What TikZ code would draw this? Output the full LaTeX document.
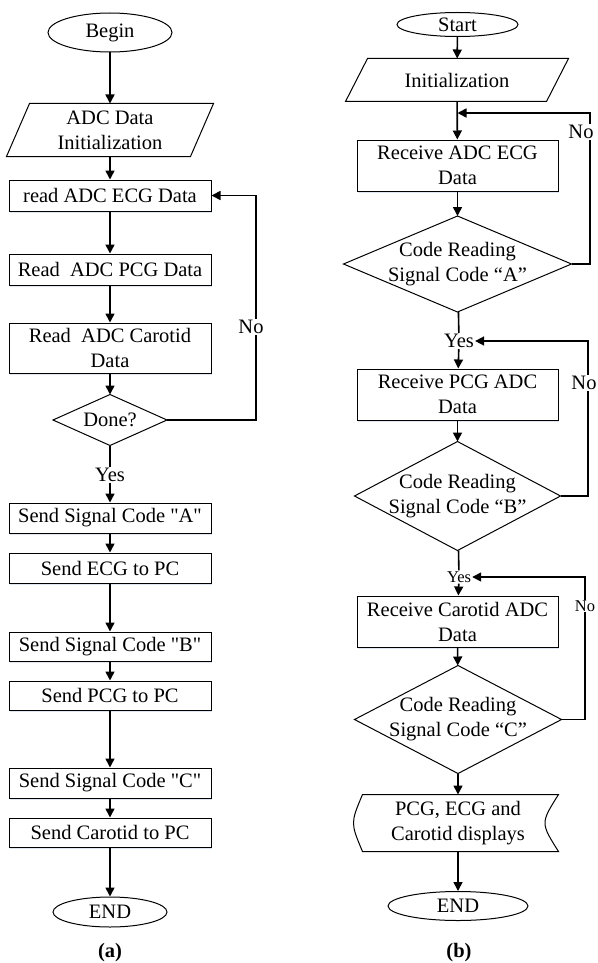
\documentclass[tikz,border=0pt]{standalone}
\usepackage{fontspec}
\setmainfont{Liberation Serif}[Ligatures=TeXOff]
\usetikzlibrary{shapes.geometric,arrows.meta,shadows}
\begin{document}
\begin{tikzpicture}[x=1pt,y=-1pt,
  font=\fontsize{20.5}{25}\selectfont,
  base/.style={inner sep=0pt, align=center, line width=1pt},
  box/.style={base, draw, rectangle, fill=white, minimum width=202pt,
    drop shadow={shadow xshift=1pt, shadow yshift=-2pt, fill={rgb,255:red,190;green,205;blue,230}, opacity=0.5}},
  oval/.style={base, draw, ellipse},
  plain/.style={base},
  lbl/.style={inner sep=1pt, fill=white},
  small/.style={font=\fontsize{16.5}{20}\selectfont},
  arr/.style={line width=1.6pt, -{Triangle[length=9pt,width=9pt]}},
  ln/.style={line width=1.6pt},
  outline/.style={line width=1pt}
]
\useasboundingbox (0,0) rectangle (597,963);

% ---------------- (a) ----------------
\node[oval, minimum width=124pt, minimum height=39pt] (begin) at (110,32.5) {Begin};
\node[plain, minimum width=206pt, minimum height=52pt] (init) at (110,130) {ADC Data\\Initialization};
\draw[outline] (init.south west) -- ([xshift=23pt]init.north west) -- (init.north east) -- ([xshift=-23pt]init.south east) -- cycle;
\node[box, minimum height=31pt] (r1) at (110,195.5) {read ADC ECG Data};
\node[box, minimum height=31pt] (r2) at (110,269.5) {Read\ \ ADC PCG Data};
\node[box, minimum height=50pt] (r3) at (110,348) {Read\ \ ADC Carotid\\Data};
\node[plain, minimum width=113pt, minimum height=50pt] (done) at (110,420) {Done?};
\draw[outline] (done.north) -- (done.east) -- (done.south) -- (done.west) -- cycle;
\node[lbl] (yesL) at (110,475) {Yes};
\node[box, minimum height=30pt] (s1) at (110,518) {Send Signal Code "A"};
\node[box, minimum height=30pt] (s2) at (110,568) {Send ECG to PC};
\node[box, minimum height=29pt] (s3) at (110,646.5) {Send Signal Code "B"};
\node[box, minimum height=29pt] (s4) at (110,695.5) {Send PCG to PC};
\node[box, minimum height=30pt] (s5) at (110,783) {Send Signal Code "C"};
\node[box, minimum height=29pt] (s6) at (110,832.5) {Send Carotid to PC};
\node[oval, minimum width=114pt, minimum height=30pt] (endL) at (110,912) {END};
\node[plain] (capA) at (110,953) {\textbf{(a)}};

\draw[arr] (begin) -- (init);
\draw[arr] (init) -- (r1);
\draw[arr] (r1) -- (r2);
\draw[arr] (r2) -- (r3);
\draw[arr] (r3) -- (done);
\draw[ln] (done) -- (yesL);
\draw[arr] (yesL) -- (s1);
\draw[arr] (s1) -- (s2);
\draw[arr] (s2) -- (s3);
\draw[arr] (s3) -- (s4);
\draw[arr] (s4) -- (s5);
\draw[arr] (s5) -- (s6);
\draw[arr] (s6) -- (endL);
\coordinate (fbL) at (256,195.5);
\draw[arr] (done.east) -| (fbL) -- (r1.east);
\node[lbl] (noL) at (251,327) {No};

% ---------------- (b) ----------------
\node[oval, minimum width=121pt, minimum height=24pt] (start) at (457.5,24.5) {Start};
\node[plain, minimum width=222pt, minimum height=42pt] (init2) at (457,80) {Initialization};
\draw[outline] (init2.south west) -- ([xshift=22pt]init2.north west) -- (init2.north east) -- ([xshift=-22pt]init2.south east) -- cycle;
\node[box, minimum width=201pt, minimum height=51pt] (rb1) at (457.5,165.5) {Receive ADC ECG\\Data};
\node[plain, minimum width=227pt, minimum height=95pt] (dA) at (457.5,264) {Code Reading\\Signal Code “A”};
\draw[outline] (dA.north) -- (dA.east) -- (dA.south) -- (dA.west) -- cycle;
\node[lbl] (yes1) at (459,341) {Yes};
\node[box, minimum width=201pt, minimum height=51pt] (rb2) at (457.5,394.5) {Receive PCG ADC\\Data};
\node[plain, minimum width=205pt, minimum height=108pt] (dB) at (457.5,496) {Code Reading\\Signal Code “B”};
\draw[outline] (dB.north) -- (dB.east) -- (dB.south) -- (dB.west) -- cycle;
\node[lbl, small] (yes2) at (459,577) {Yes};
\node[box, minimum width=201pt, minimum height=51pt] (rb3) at (457.5,621.5) {Receive Carotid ADC\\Data};
\node[plain, minimum width=206pt, minimum height=107pt] (dC) at (458,719.5) {Code Reading\\Signal Code “C”};
\draw[outline] (dC.north) -- (dC.east) -- (dC.south) -- (dC.west) -- cycle;
\node[plain, minimum width=200pt, minimum height=56pt] (disp) at (458,823) {PCG, ECG and\\Carotid displays};
\draw[outline] ([xshift=5pt]disp.north west) -- (disp.north east)
  .. controls ([xshift=-18pt]disp.east) .. (disp.south east)
  -- ([xshift=5pt]disp.south west)
  .. controls ([xshift=-7pt]disp.west) .. ([xshift=5pt]disp.north west) -- cycle;
\node[oval, minimum width=140pt, minimum height=29pt] (end2) at (458,906) {END};
\node[plain] (capB) at (459,953) {\textbf{(b)}};

\draw[arr] (start) -- (init2);
\draw[arr] (init2) -- (rb1);
\draw[arr] (rb1) -- (dA);
\draw[ln] (dA) -- (yes1);
\draw[arr] (yes1) -- (rb2);
\draw[arr] (rb2) -- (dB);
\draw[ln] (dB) -- (yes2);
\draw[arr] (yes2) -- (rb3);
\draw[arr] (rb3) -- (dC);
\draw[arr] (dC) -- (disp);
\draw[arr] (disp) -- (end2);

\coordinate (jA) at (457.5,113);
\coordinate (cA) at (590,113);
\draw[arr] (dA.east) -| (cA) -- (jA);
\coordinate (cB) at (588,341);
\draw[arr] (dB.east) -| (cB) -- (yes1.east);
\coordinate (cC) at (585,577);
\draw[arr] (dC.east) -| (cC) -- (yes2.east);

\node[lbl] (noA) at (581,132) {No};
\node[lbl] (noB) at (584,383) {No};
\node[lbl, small] (noC) at (585,606) {No};
\end{tikzpicture}
\end{document}
